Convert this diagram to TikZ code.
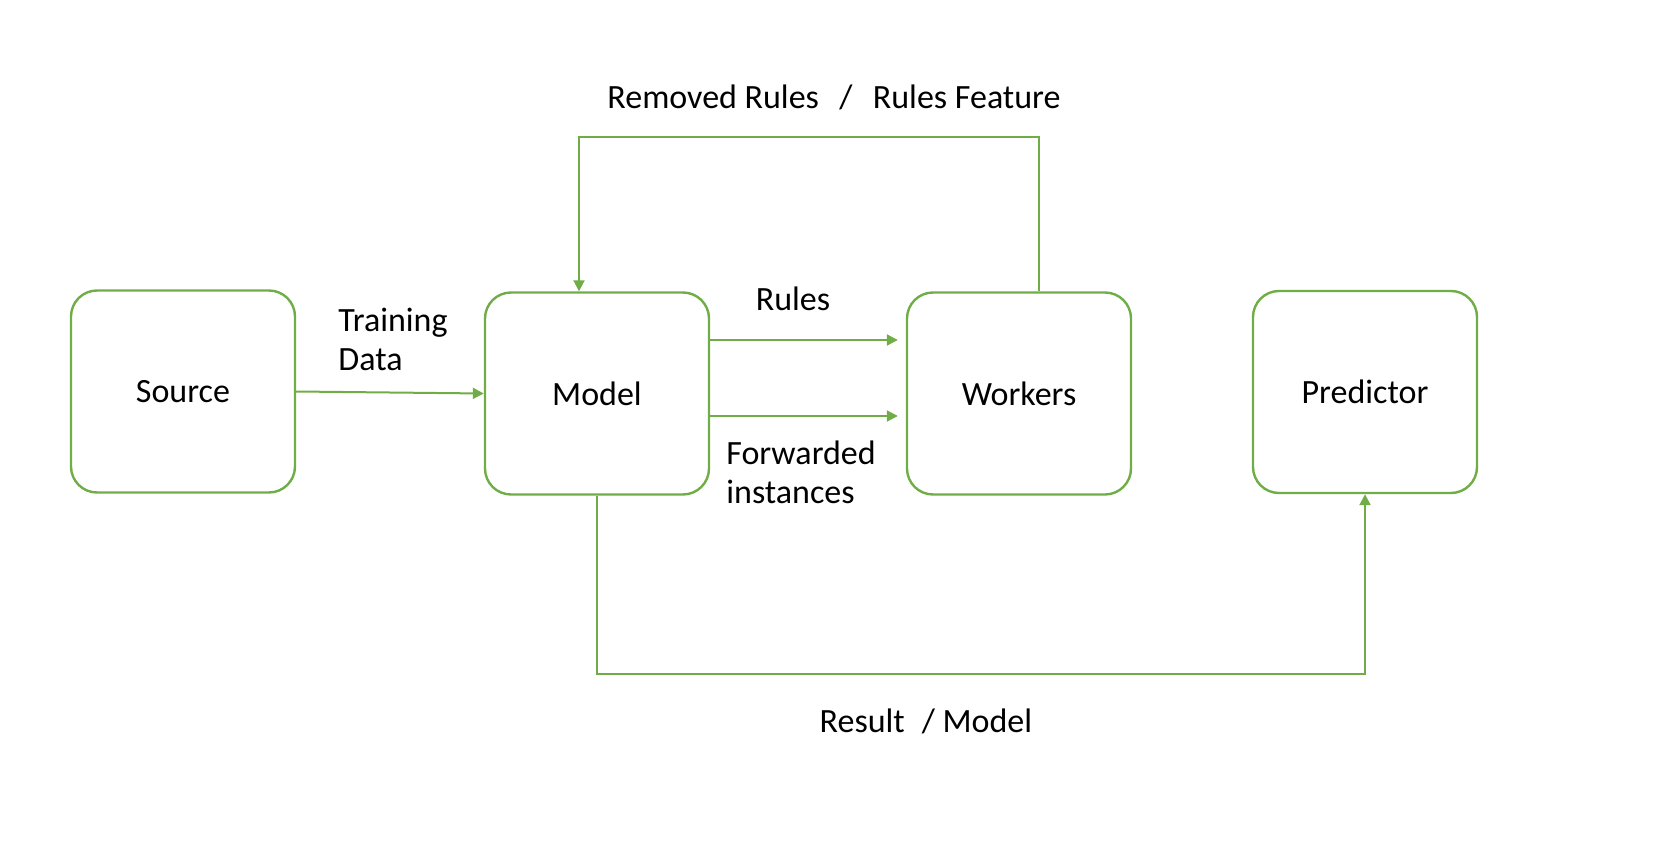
\documentclass[tikz,border=0pt]{standalone}
\usepackage{fontspec}
\setmainfont{Carlito}
\usetikzlibrary{arrows.meta}
\definecolor{leaf}{RGB}{112,173,71}
\begin{document}
\begin{tikzpicture}[
x=0.5pt,y=-0.5pt,
font=\fontsize{17}{19.5}\selectfont,
box/.style={draw=leaf,line width=1.2pt,rounded corners=13pt,minimum width=112pt,minimum height=101pt},
flow/.style={draw=leaf,line width=1pt,-{Triangle[length=5.5pt,width=5.5pt]}},
lbl/.style={inner sep=0pt,align=left},
]
\useasboundingbox(0,0)rectangle(1680,856);
%boxes
\node[box](source)at(183,391.5){Source};
\node[box](model)at(597,393.5){Model};
\node[box](workers)at(1019,393.5){Workers};
\node[box](predictor)at(1365,392){Predictor};

%source - model
\draw[flow](source.east)--(model.west);
\node[lbl,anchor=base west]at(338,370){Training\\Data};

%model - workers
\draw[flow,shorten >=4pt]([yshift=26.75pt]model.east)--([yshift=26.75pt]workers.west);
\node[lbl,anchor=base]at(793,310){Rules};
\draw[flow,shorten >=4pt]([yshift=-11.25pt]model.east)--([yshift=-11.25pt]workers.west);
\node[lbl,anchor=base west]at(726,503){Forwarded\\instances};

%feedback
\draw[flow]([xshift=10pt]workers.north)--++(0,-154)-|([xshift=-9pt]model.north);
\node[lbl,anchor=base]at(834,109){Removed Rules\hspace{0.6em}/\hspace{0.6em}Rules Feature};

%result
\draw[flow](model.south)--++(0,178)-|(predictor.south);
\node[lbl,anchor=base]at(926,732){Result\hspace{0.5em}/ Model};

\end{tikzpicture}
\end{document}
